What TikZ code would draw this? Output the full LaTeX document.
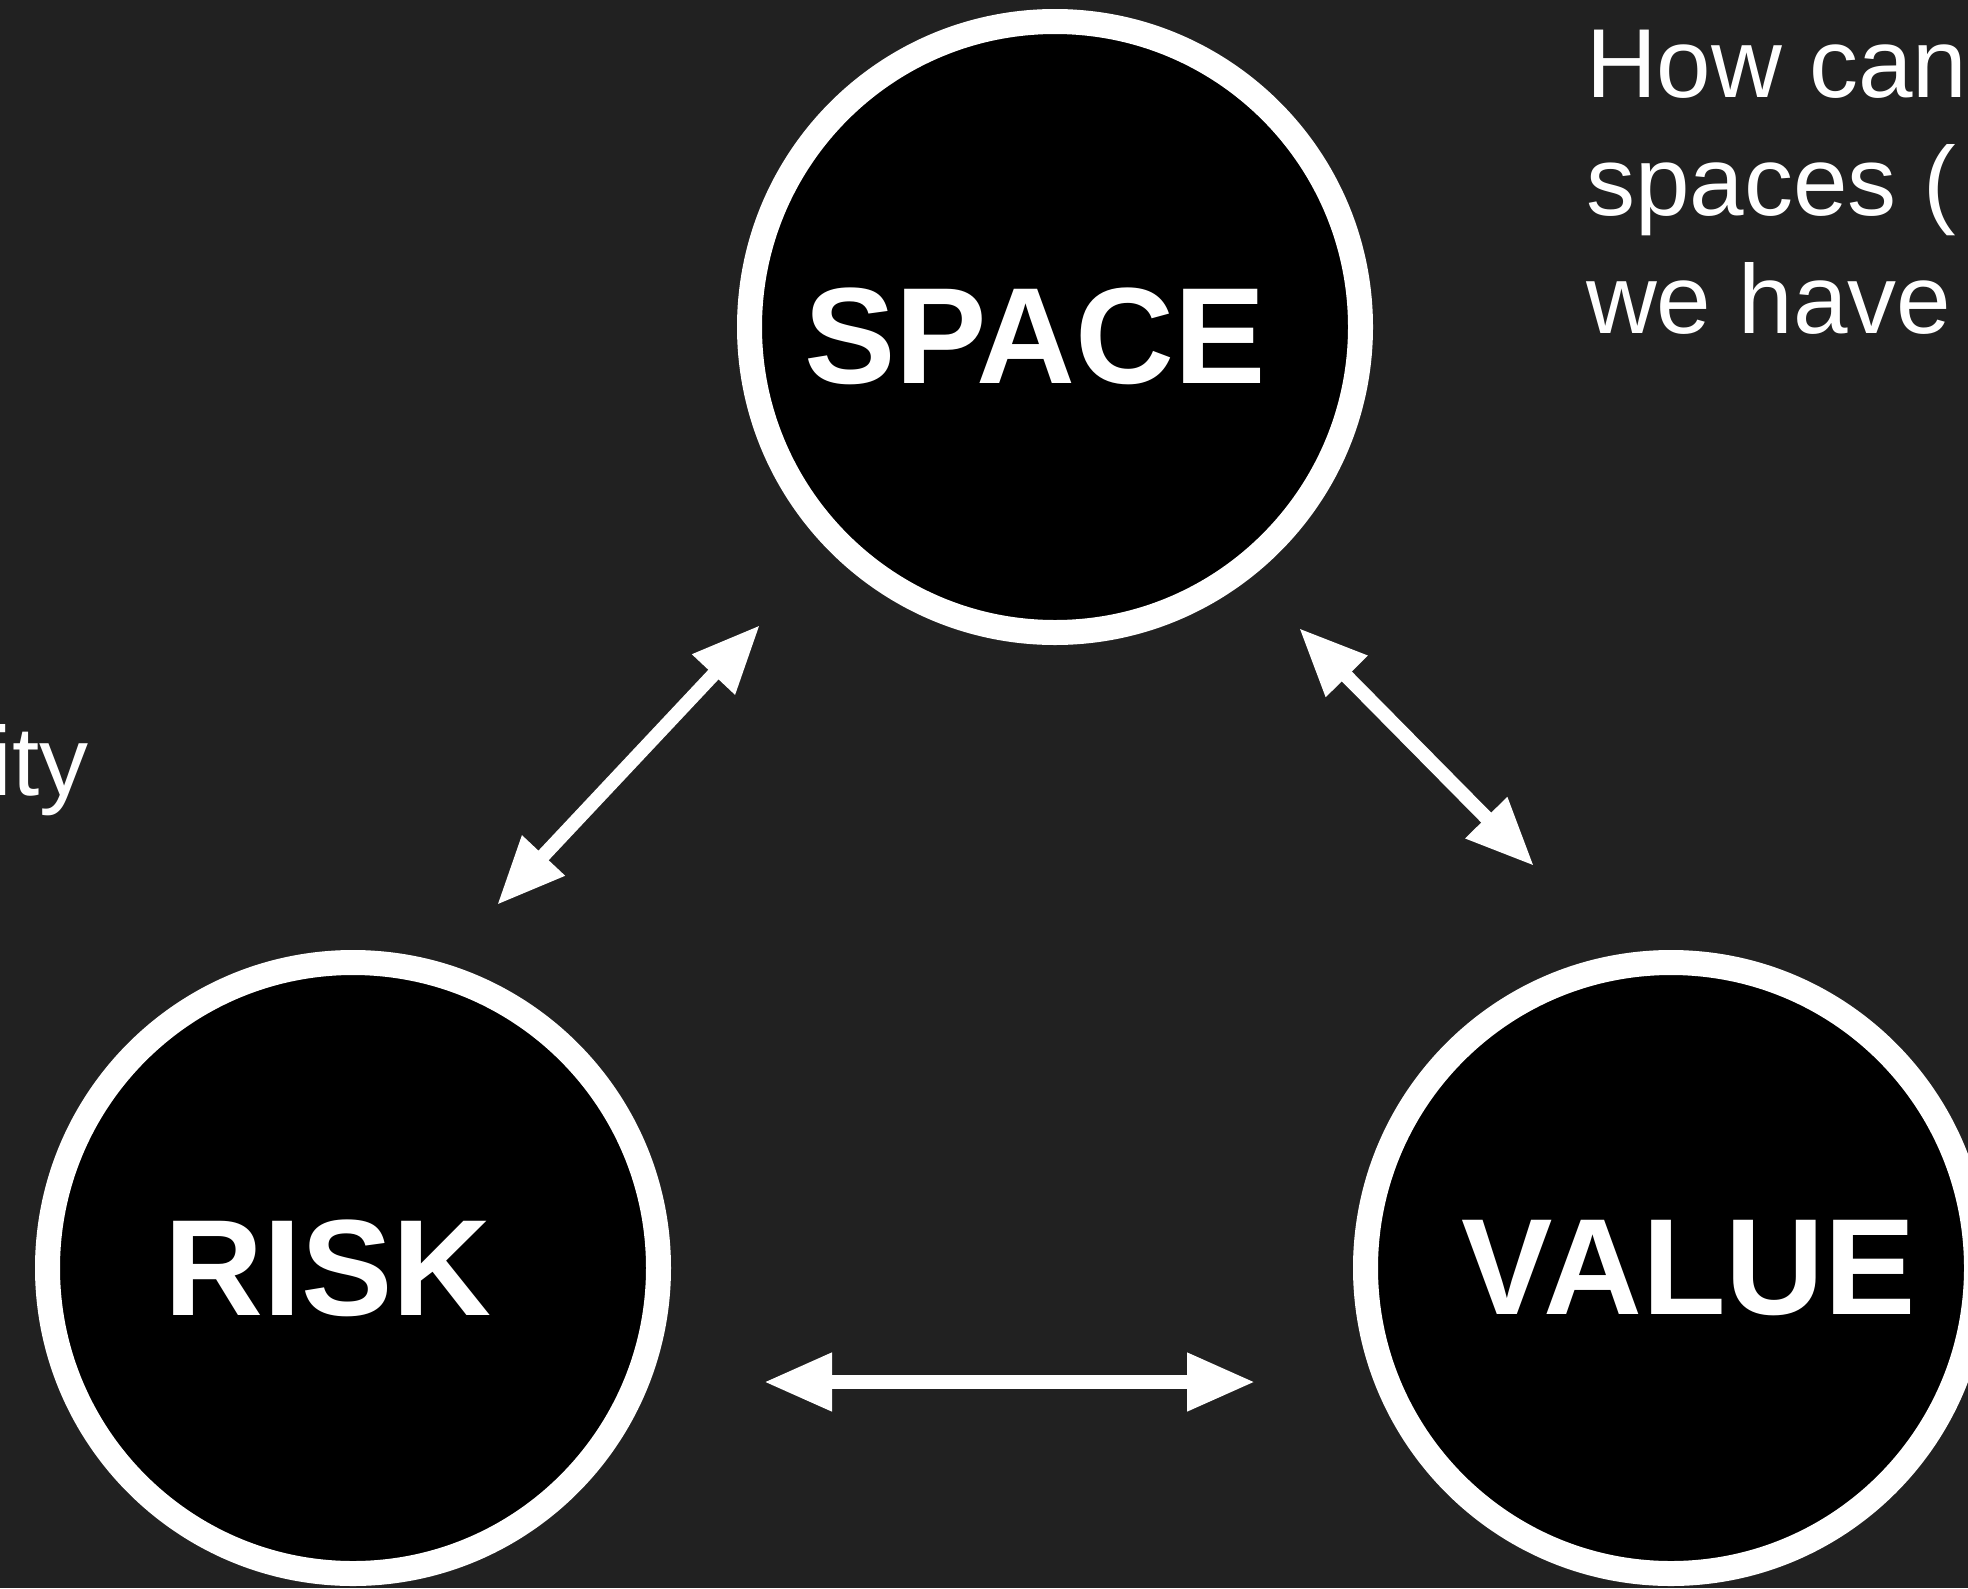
\documentclass[tikz,border=0pt]{standalone}
\usepackage{fontspec}
\setmainfont{Liberation Sans}
\usetikzlibrary{arrows.meta}
\definecolor{bg}{HTML}{212121}
\begin{document}
\begin{tikzpicture}[x=1pt,y=-1pt,
  disc/.style={circle, draw=white, line width=25pt, fill=black, minimum size=611pt, inner sep=0pt},
  big/.style={font=\fontsize{137}{160}\selectfont\bfseries, text=white, inner sep=0pt},
  link/.style={draw=white, line width=14pt, {Triangle[length=68pt,width=55pt]}-{Triangle[length=68pt,width=55pt]}},
  note/.style={font=\fontsize{98}{118}\selectfont, text=white, inner sep=0pt}]
\useasboundingbox (0,0) rectangle (1968,1588);
\fill[bg] (0,0) rectangle (1968,1588);
\clip (0,0) rectangle (1968,1588);

\node[disc, label={[big, xshift=-20pt, yshift=-9pt]center:SPACE}] (space) at (1055,327) {};
\node[disc, label={[big, xshift=-25pt]center:RISK}] (risk) at (353,1268) {};
\node[disc, label={[big, xshift=18pt]center:VALUE}] (value) at (1671,1268) {};

\coordinate (a1r) at (497,905);
\coordinate (a1s) at (760,625);
\coordinate (a2s) at (1299,628);
\coordinate (a2v) at (1534,866);
\coordinate (a3r) at (764,1382);
\coordinate (a3v) at (1255,1382);
\draw[link] (a1r) -- (a1s);
\draw[link] (a2s) -- (a2v);
\draw[link] (a3r) -- (a3v);

\node[note, anchor=base west] (q1) at (1586,97) {How can};
\node[note, anchor=base west] (q2) at (1586,215) {spaces (};
\node[note, anchor=base west] (q3) at (1586,333) {we have};
\node[note, anchor=base east] (left) at (89,795) {ity};
\end{tikzpicture}
\end{document}
